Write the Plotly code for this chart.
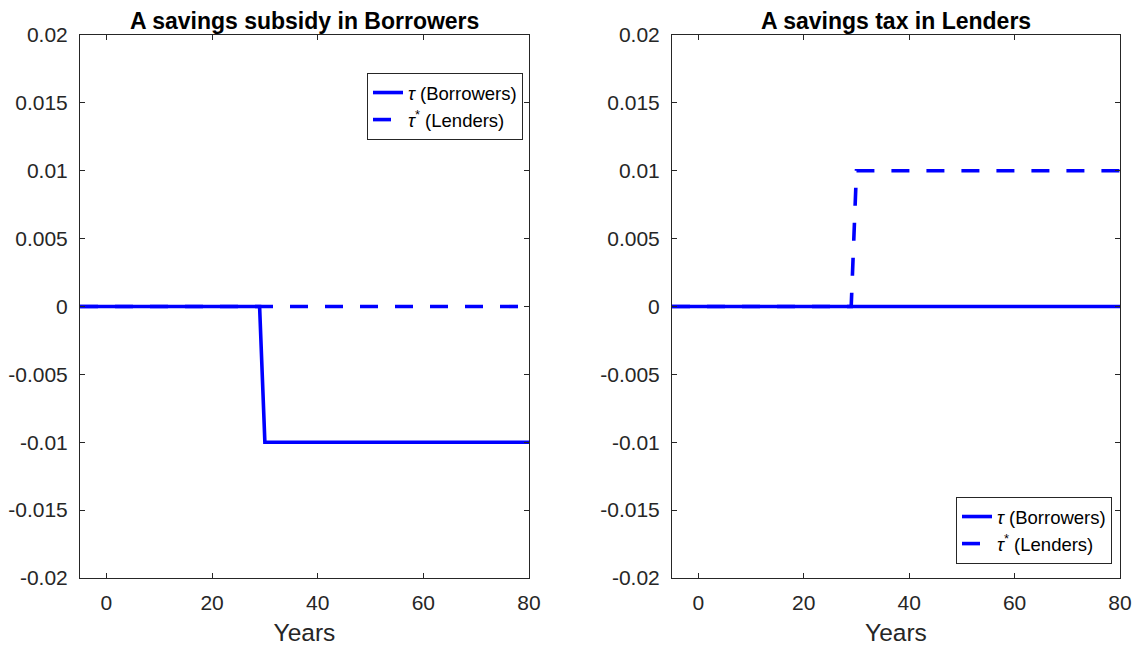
import plotly.graph_objects as go

# Data
years = list(range(-5, 81))
step_year = 30
tau_left = [0.0 if t < step_year else -0.01 for t in years]       # savings subsidy in Borrowers
tau_star_left = [0.0 for t in years]
tau_right = [0.0 for t in years]
tau_star_right = [0.0 if t < step_year else 0.01 for t in years]   # savings tax in Lenders

titles = ["A savings subsidy in Borrowers", "A savings tax in Lenders"]
y_ticks = [-0.02, -0.015, -0.01, -0.005, 0, 0.005, 0.01, 0.015, 0.02]
y_tick_labels = ["-0.02", "-0.015", "-0.01", "-0.005", "0", "0.005", "0.01", "0.015", "0.02"]
x_ticks = [0, 20, 40, 60, 80]
name_tau = "<i>τ</i> (Borrowers)"
name_tau_star = "<i>τ</i><sup>*</sup> (Lenders)"

BLUE = "#0000ff"
AX = "#262626"
FONT = "Liberation Sans, Arial, Helvetica, sans-serif"
LW = 3.6
DASH = "18px,17px"

fig = go.Figure()
fig.add_trace(go.Scatter(x=years, y=tau_left, mode="lines", name=name_tau,
                         line=dict(color=BLUE, width=LW), xaxis="x", yaxis="y", legend="legend"))
fig.add_trace(go.Scatter(x=years, y=tau_star_left, mode="lines", name=name_tau_star,
                         line=dict(color=BLUE, width=LW, dash=DASH), xaxis="x", yaxis="y", legend="legend"))
fig.add_trace(go.Scatter(x=years, y=tau_right, mode="lines", name=name_tau,
                         line=dict(color=BLUE, width=LW), xaxis="x2", yaxis="y2", legend="legend2"))
fig.add_trace(go.Scatter(x=years, y=tau_star_right, mode="lines", name=name_tau_star,
                         line=dict(color=BLUE, width=LW, dash=DASH), xaxis="x2", yaxis="y2", legend="legend2"))

# page has an 8px body margin; figure is sized to fit the window
W, H = 1136, 640
L, R, T, B = 72, 24, 27, 70
pw = W - L - R
ph = H - T - B
d1 = [0, (521 - L) / pw]
d2 = [(664 - L) / pw, 1]

def xax(domain, anchor):
    return dict(domain=domain, anchor=anchor, range=[-5, 80], tickvals=x_ticks,
                ticks="inside", ticklen=5, tickcolor=AX, tickwidth=1,
                showline=True, linecolor=AX, linewidth=1, mirror="ticks",
                showgrid=False, zeroline=False, ticklabelstandoff=6, automargin=False,
                tickfont=dict(size=21, color=AX, family=FONT),
                title=dict(text="Years", font=dict(size=24.5, color=AX, family=FONT), standoff=10))

def yax(anchor):
    return dict(anchor=anchor, domain=[0, 1], range=[-0.02, 0.02], tickvals=y_ticks, ticktext=y_tick_labels,
                ticks="inside", ticklen=5, tickcolor=AX, tickwidth=1,
                showline=True, linecolor=AX, linewidth=1, mirror="ticks",
                showgrid=False, zeroline=False, ticklabelstandoff=7, automargin=False,
                tickfont=dict(size=21, color=AX, family=FONT))

legend_common = dict(bgcolor="white", bordercolor=AX, borderwidth=1,
                     font=dict(size=18.5, color="black", family=FONT),
                     tracegroupgap=0)

title_y = 1 + (27 - 13) / ph  # title centre a little below the window top

fig.update_layout(
    width=W, height=H,
    margin=dict(l=L, r=R, t=T, b=B, autoexpand=False),
    paper_bgcolor="white", plot_bgcolor="white",
    xaxis=xax(d1, "y"), yaxis=yax("x"),
    xaxis2=xax(d2, "y2"), yaxis2=yax("x2"),
    legend=dict(x=(515 - L) / pw, y=1 - (65 - T) / ph, xanchor="right", yanchor="top", **legend_common),
    legend2=dict(x=(1104 - L) / pw, y=(T + ph - 556) / ph, xanchor="right", yanchor="bottom", **legend_common),
    showlegend=True,
    font=dict(family=FONT),
    annotations=[
        dict(text="<b>" + titles[0] + "</b>", x=(d1[0] + d1[1]) / 2, y=title_y, xref="paper", yref="paper",
             xanchor="center", yanchor="middle", showarrow=False,
             font=dict(size=23, color="black", family=FONT)),
        dict(text="<b>" + titles[1] + "</b>", x=(d2[0] + d2[1]) / 2, y=title_y, xref="paper", yref="paper",
             xanchor="center", yanchor="middle", showarrow=False,
             font=dict(size=23, color="black", family=FONT)),
    ],
)

fig.write_html("out.html")
